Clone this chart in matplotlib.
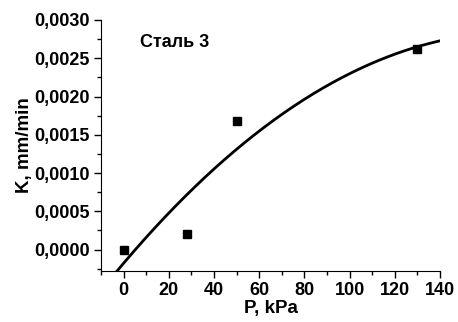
import matplotlib.pyplot as plt
from matplotlib.ticker import MultipleLocator, FuncFormatter
import numpy as np

plt.rcParams['font.family'] = ['Liberation Sans', 'DejaVu Sans']
plt.rcParams['font.weight'] = 'bold'

# measured points
P = [0, 28, 50, 130]
K = [0.0000, 0.0002, 0.00168, 0.00262]

# quadratic fit, as drawn in the original
coef = np.polyfit(P, K, 2)
xfit = np.linspace(-5, 140, 200)
yfit = np.polyval(coef, xfit)

fig = plt.figure(figsize=(4.58, 3.22), dpi=100)
ax = fig.add_axes([0.2205, 0.1584, 0.7402, 0.7795])

ax.plot(xfit, yfit, color='black', lw=2)
ax.plot(P, K, 's', color='black', ms=6)

ax.set_xlim(-10, 140)
ax.set_ylim(-0.00028, 0.0030)

ax.spines['top'].set_visible(False)
ax.spines['right'].set_visible(False)

ax.xaxis.set_major_locator(MultipleLocator(20))
ax.xaxis.set_minor_locator(MultipleLocator(10))
ax.yaxis.set_major_locator(MultipleLocator(0.0005))
ax.yaxis.set_minor_locator(MultipleLocator(0.00025))
ax.yaxis.set_major_formatter(FuncFormatter(lambda v, p: ('%.4f' % v).replace('.', ',').replace('-0,0000', '0,0000')))
ax.tick_params(which='major', length=5, width=1, labelsize=13, pad=3)
ax.tick_params(which='minor', length=3, width=1)

ax.set_xlabel('P, kPa', fontsize=13.5, fontweight='bold', labelpad=1)
ax.set_ylabel('K, mm/min', fontsize=13.5, fontweight='bold')
ax.yaxis.set_label_coords(-0.2, 0.5)

ax.text(7.3, 0.0027, 'Сталь 3', fontsize=13, fontweight='bold', va='center')

fig.savefig('out.png', dpi=100)
